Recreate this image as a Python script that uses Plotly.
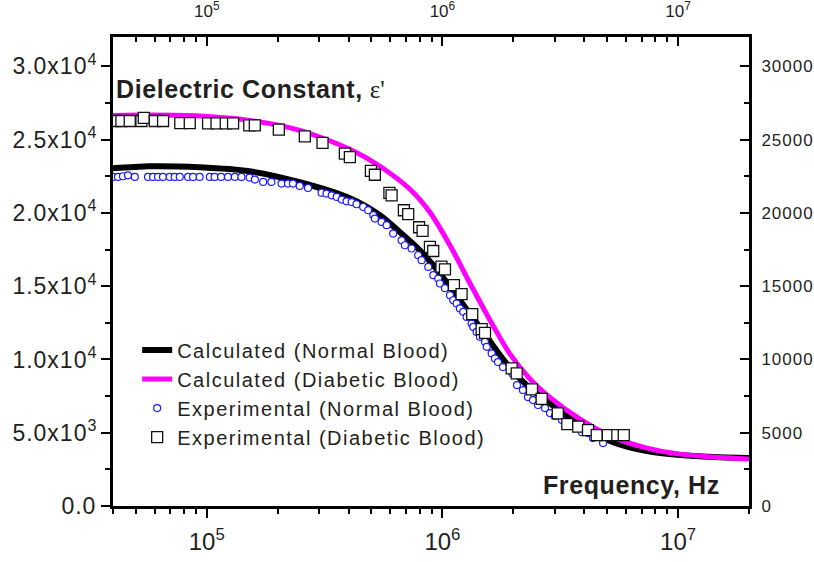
import math
import plotly.graph_objects as go

# ---------------- data ----------------
calc_normal_f = [4.0e4, 5.7e4, 9.3e4, 1.52e5, 2.48e5, 4.05e5, 5.43e5, 6.61e5, 8.02e5,
                 9.75e5, 1.186e6, 1.442e6, 1.754e6, 1.99e6, 2.355e6, 2.78e6, 3.838e6,
                 5.297e6, 7.379e6, 1.019e7, 1.409e7, 2.0e7]
calc_normal_eps = [23040, 23180, 23110, 22840, 22090, 21000, 19840, 18680, 17450,
                   15880, 14040, 12200, 10290, 9200, 8040, 7160, 5520,
                   4360, 3750, 3480, 3340, 3270]

calc_diab_f = [3.99e4, 5.73e4, 9.33e4, 1.52e5, 2.48e5, 4.05e5, 5.43e5, 7.28e5, 8.85e5,
               1.076e6, 1.309e6, 1.592e6, 1.936e6, 2.355e6, 2.78e6, 3.838e6, 5.297e6,
               7.379e6, 1.019e7, 1.409e7, 2.0e7]
calc_diab_eps = [26650, 26670, 26610, 26310, 25630, 24340, 23180, 21610, 20040,
                 17790, 15200, 12680, 10360, 8660, 7570, 5930, 4700,
                 3950, 3540, 3340, 3200]

exp_normal_f = [
    40000, 42000, 44100, 46300, 49500, 56300, 59200, 62100, 65200, 69600,
    73100, 76800, 83300, 87500, 93300, 103000, 108000, 115000, 123000, 131500,
    140300, 152000, 160000, 173500, 188000, 207600, 221000, 232000, 248000, 269000,
    307000, 322000, 339000, 356000, 374000, 392000, 412000, 432000, 461000, 484000,
    509000, 517000, 552000, 580000, 618000, 671000, 693000, 740000, 789000, 816000,
    871000, 915000, 960000, 976000, 1025000, 1077000, 1112000, 1149000, 1186000, 1225000,
    1267000, 1330000, 1352000, 1397000, 1443000, 1515000, 1541000, 1618000, 1671000, 1721000,
    1807000, 1974000, 2072000, 2196000, 2306000, 2422000, 2544000, 2725000, 2860000, 3004000,
    3216000, 3476000, 3722000, 3908000, 4147000, 4355000, 4805000]
exp_normal_eps = [
    22450, 22450, 22500, 22560, 22450, 22450, 22450, 22450, 22450, 22450,
    22450, 22450, 22450, 22450, 22450, 22450, 22450, 22450, 22450, 22450,
    22450, 22410, 22270, 22110, 22110, 22000, 22000, 22000, 21840, 21700,
    21380, 21320, 21200, 21090, 20910, 20790, 20740, 20590, 20400, 20180,
    19840, 19610, 19380, 19160, 18590, 18130, 17790, 17570, 17110, 16770,
    16310, 15750, 15520, 15180, 14860, 14380, 14040, 13820, 13480, 13250,
    12900, 12450, 12220, 11880, 11540, 11200, 10860, 10410, 10070, 9820,
    9480, 9070, 8250, 7910, 7430, 7230, 6890, 6680, 6340, 6140,
    5860, 5660, 5390, 5040, 4980, 4640, 4290]

exp_diab_f = [
    41080, 43430, 47100, 52800, 54030, 60160, 65240, 77200, 84700, 101300,
    110000, 120400, 129300, 151500, 159900, 202200, 260700, 309900, 385500, 404800,
    497200, 516900, 595700, 608600, 686300, 715800, 796200, 823800, 885100, 914000,
    990400, 1025000, 1119000, 1206000, 1338000, 1467000, 1516000, 1967000, 2066000, 2399000,
    2637000, 3087000, 3388000, 3772000, 4148000, 4517000, 5034000, 5524000, 5883000]
exp_diab_eps = [
    26270, 26270, 26270, 26270, 26480, 26270, 26270, 26130, 26130, 26110,
    26110, 26110, 26110, 25970, 25970, 25680, 25220, 24770, 24040, 23810,
    22860, 22600, 21360, 21200, 20180, 19910, 19020, 18770, 17680, 17400,
    16330, 16140, 15070, 14450, 13090, 12070, 11810, 9390, 9050, 7960,
    7310, 6320, 5590, 5410, 5180, 4840, 4840, 4840, 4840]

series_names = ["Calculated (Normal Blood)", "Calculated (Diabetic Blood)",
                "Experimental (Normal Blood)", "Experimental (Diabetic Blood)"]

# axis ticks
x_range = [4.0e4, 2.0e7]
x_major = [1e5, 1e6, 1e7]
x_major_text = ["10<sup>5</sup>", "10<sup>6</sup>", "10<sup>7</sup>"]
x_minor = [m * 10 ** e for e in (4, 5, 6) for m in range(2, 10)] + [2e7]
y_range = [0, 32000]
y_major = [0, 5000, 10000, 15000, 20000, 25000, 30000]
y_left_mant = ["0.0", "5.0x10", "1.0x10", "1.5x10", "2.0x10", "2.5x10", "3.0x10"]
y_left_exp = ["", "3", "4", "4", "4", "4", "4"]
y_right_text = ["0", "5000", "10000", "15000", "20000", "25000", "30000"]

# ---------------- figure ----------------
FONT = "Liberation Sans, Arial, sans-serif"
TXT = "#231f20"


def spaced(s, px):
    return "<span style='letter-spacing:%spx'>%s</span>" % (px, s)


y_left_text = [spaced(m, 1) + ("<sup>%s</sup>" % e if e else "")
               for m, e in zip(y_left_mant, y_left_exp)]
y_right_labels = [spaced(t, 1) for t in y_right_text]

fig = go.Figure()
fig.add_trace(go.Scatter(x=calc_normal_f, y=calc_normal_eps, mode="lines",
                         line=dict(color="#000000", width=6, shape="spline", smoothing=0.8),
                         name=spaced(series_names[0], 1.5)))
fig.add_trace(go.Scatter(x=calc_diab_f, y=calc_diab_eps, mode="lines",
                         line=dict(color="#ff00ff", width=5, shape="spline", smoothing=0.8),
                         name=spaced(series_names[1], 1.5)))
fig.add_trace(go.Scatter(x=exp_normal_f, y=exp_normal_eps, mode="markers",
                         marker=dict(symbol="circle", size=7, color="white",
                                     line=dict(color="#1a1aff", width=1.2)),
                         name=spaced(series_names[2], 1.5)))
# top layer: drawn on the (identical) mirrored top/right axes
fig.add_trace(go.Scatter(x=exp_diab_f, y=exp_diab_eps, mode="markers",
                         xaxis="x2", yaxis="y2",
                         marker=dict(symbol="square", size=11, color="white",
                                     line=dict(color="#111111", width=1.3)),
                         name=spaced(series_names[3], 1.5)))

lr = [math.log10(v) for v in x_range]
common_x = dict(type="log", range=lr, showgrid=False, zeroline=False, automargin=False,
                showline=True, linewidth=3, linecolor="black",
                tickmode="array", tickvals=x_major, ticktext=x_major_text,
                tickwidth=2, tickcolor="black", ticklen=9)
common_y = dict(range=y_range, showgrid=False, zeroline=False, automargin=False,
                showline=True, linewidth=3, linecolor="black",
                tickmode="array", tickvals=y_major,
                tickwidth=2, tickcolor="black", ticklen=9)

fig.update_layout(
    width=814, height=562,
    margin=dict(l=113, r=65, t=37, b=56, autoexpand=False),
    paper_bgcolor="white", plot_bgcolor="white",
    font=dict(family=FONT, color=TXT),
    xaxis=dict(**common_x, ticks="outside", tickfont=dict(size=24, color=TXT),
               ticklabelstandoff=3,
               minor=dict(tickmode="array", tickvals=x_minor, ticks="outside",
                          ticklen=5, tickwidth=2, tickcolor="black", showgrid=False)),
    xaxis2=dict(**common_x, overlaying="x", side="top", anchor="y2", ticks="inside",
                tickfont=dict(size=17, color=TXT), ticklabelstandoff=10,
                minor=dict(tickmode="array", tickvals=x_minor, ticks="inside",
                           ticklen=5, tickwidth=2, tickcolor="black", showgrid=False)),
    yaxis=dict(**common_y, ticks="outside", ticktext=y_left_text,
               tickfont=dict(size=23, color=TXT),
               minor=dict(dtick=2500, ticks="outside", ticklen=5, tickwidth=2,
                          tickcolor="black", showgrid=False)),
    yaxis2=dict(**common_y, overlaying="y", side="right", anchor="x2", ticks="inside",
                ticktext=y_right_labels, tickfont=dict(size=17, color=TXT),
                ticklabelstandoff=6,
                minor=dict(dtick=2500, ticks="inside", ticklen=5, tickwidth=2,
                           tickcolor="black", showgrid=False)),
    legend=dict(x=0.038, y=0.374, xanchor="left", yanchor="top",
                bgcolor="rgba(0,0,0,0)", font=dict(size=20, color=TXT),
                tracegroupgap=0),
    annotations=[
        dict(xref="paper", yref="paper", x=0.002, y=0.889, xanchor="left", yanchor="middle",
             showarrow=False,
             text="<b>" + spaced("Dielectric Constant,", 0.6) + "</b> "
                  "<span style='font-family:Liberation Serif'>\u03b5'</span>",
             font=dict(size=25, color=TXT)),
        dict(xref="paper", yref="paper", x=0.9575, y=0.045, xanchor="right", yanchor="middle",
             showarrow=False, text="<b>" + spaced("Frequency, Hz", 0.6) + "</b>",
             font=dict(size=25, color=TXT)),
    ],
)

fig.write_html("out.html")
